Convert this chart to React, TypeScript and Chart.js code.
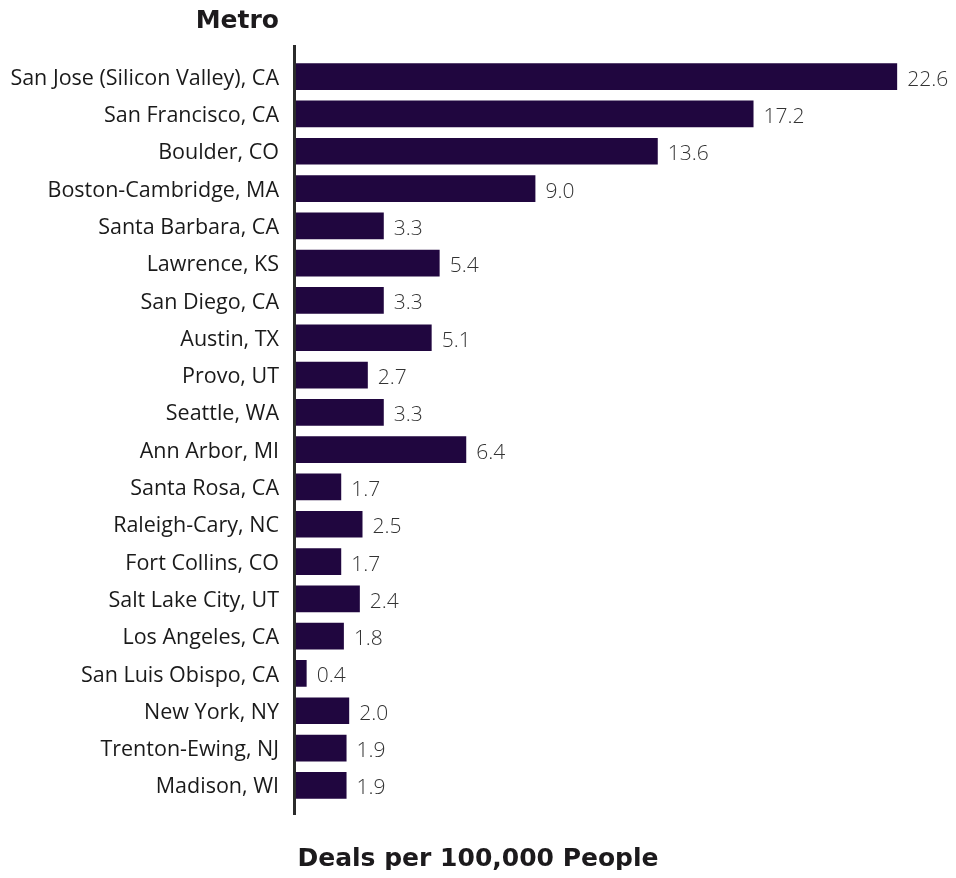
import React, { useEffect, useRef } from "react";
import { Chart, registerables } from "chart.js";

Chart.register(...registerables);

const categories = [
  "San Jose (Silicon Valley), CA",
  "San Francisco, CA",
  "Boulder, CO",
  "Boston-Cambridge, MA",
  "Santa Barbara, CA",
  "Lawrence, KS",
  "San Diego, CA",
  "Austin, TX",
  "Provo, UT",
  "Seattle, WA",
  "Ann Arbor, MI",
  "Santa Rosa, CA",
  "Raleigh-Cary, NC",
  "Fort Collins, CO",
  "Salt Lake City, UT",
  "Los Angeles, CA",
  "San Luis Obispo, CA",
  "New York, NY",
  "Trenton-Ewing, NJ",
  "Madison, WI",
];

const deals = [22.6, 17.2, 13.6, 9.0, 3.3, 5.4, 3.3, 5.1, 2.7, 3.3, 6.4, 1.7, 2.5, 1.7, 2.4, 1.8, 0.4, 2.0, 1.9, 1.9];

const yTitle = "Metro";
const xTitle = "Deals per 100,000 People";

const FONT = "'Open Sans', Lato, sans-serif";
const TITLE_FONT = "'DejaVu Sans', sans-serif";
const BAR = "#20063f";

const overlay = {
  id: "overlay",
  afterDatasetsDraw(chart: any) {
    const { ctx, chartArea } = chart;
    const meta = chart.getDatasetMeta(0);
    ctx.save();
    // value labels
    ctx.font = `300 21px ${FONT}`;
    ctx.fillStyle = "#333333";
    ctx.textAlign = "left";
    ctx.textBaseline = "middle";
    meta.data.forEach((bar: any, i: number) => {
      ctx.fillText(deals[i].toFixed(1), bar.x + 10, bar.y + 3);
    });
    // axis line
    ctx.strokeStyle = "#2b2b2b";
    ctx.lineWidth = 3;
    ctx.beginPath();
    ctx.moveTo(chartArea.left - 1.5, chartArea.top - 13);
    ctx.lineTo(chartArea.left - 1.5, chartArea.bottom + 11);
    ctx.stroke();
    // titles
    ctx.fillStyle = "#1c1a1c";
    ctx.font = `bold 25px ${TITLE_FONT}`;
    ctx.textAlign = "right";
    ctx.textBaseline = "middle";
    ctx.fillText(yTitle, chartArea.left - 17, 13);
    ctx.textAlign = "center";
    ctx.fillText(xTitle, chart.width / 2, 851);
    ctx.restore();
  },
};

export default function App() {
  const ref = useRef<HTMLCanvasElement | null>(null);
  useEffect(() => {
    if (!ref.current) return;
    const chart = new Chart(ref.current, {
      type: "bar",
      data: {
        labels: categories,
        datasets: [
          {
            data: deals,
            backgroundColor: BAR,
            borderWidth: 0,
            categoryPercentage: 1,
            barPercentage: 0.716,
          },
        ],
      },
      options: {
        indexAxis: "y",
        animation: false,
        responsive: false,
        maintainAspectRatio: false,
        layout: { padding: { top: 50, bottom: 66, left: 0, right: 13.6 } },
        plugins: {
          legend: { display: false },
          tooltip: { enabled: false },
          title: { display: false },
        },
        scales: {
          x: { display: false, min: 0, max: 24 },
          y: {
            grid: { display: false, drawTicks: false },
            border: { display: false },
            ticks: {
              padding: 17,
              labelOffset: 2,
              color: "#1a1a1a",
              font: { family: FONT, size: 21.5 },
              autoSkip: false,
            },
            afterFit(scale: any) {
              scale.width = 288;
            },
          },
        },
      },
      plugins: [overlay],
    });
    return () => chart.destroy();
  }, []);
  return (
    <div style={{ width: 940, height: 862 }}>
      <canvas ref={ref} width={940} height={862} style={{ display: "block" }} />
    </div>
  );
}
